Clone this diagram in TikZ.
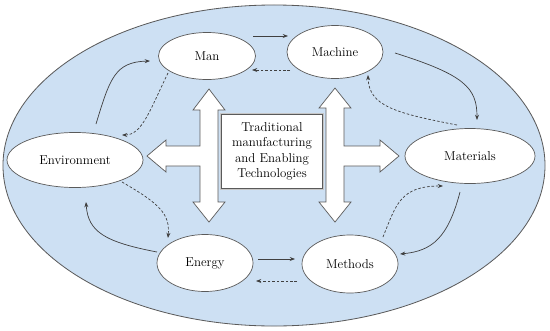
\documentclass[tikz,border=0pt]{standalone}
\usepackage{xcolor}
\usepackage{tikz}
\usetikzlibrary{positioning,shapes,shapes.geometric,arrows.meta,calc}
\definecolor{dark}{HTML}{404040}
\definecolor{outline}{HTML}{5A5A5A}
\definecolor{sky}{HTML}{CDE0F3}
\tikzset{
    factor/.style={ellipse, draw=outline, fill=white, line width=0.6pt, inner sep=0pt, font=\fontsize{11}{13}\selectfont},
    core/.style={rectangle, draw=outline, double=gray!45, double distance=0.9pt, fill=white, inner sep=2pt, align=center, font=\fontsize{11}{13.2}\selectfont},
    bigarrow/.style={draw=outline, fill=white, line width=0.6pt, line join=miter},
    flow/.style={-{Stealth[length=4.5pt,width=3.4pt]}, line width=0.6pt, draw=dark},
    feedback/.style={flow, dash pattern=on 2.2pt off 1.6pt}
}

\begin{document}
\begin{tikzpicture}[x=0.03cm, y=-0.03cm]
\useasboundingbox (0,0) rectangle (550,331);

% system boundary
\node[ellipse, draw=outline, fill=sky, line width=0.7pt, minimum width=16.26cm, minimum height=9.63cm, inner sep=0pt] (system) at (274,165.5) {};

% the six factors
\node[factor, minimum width=2.91cm, minimum height=1.41cm] (man) at (207,56) {Man};
\node[factor, minimum width=2.88cm, minimum height=1.59cm] (machine) at (335,52) {Machine};
\node[factor, minimum width=3.9cm, minimum height=1.65cm] (materials) at (470,156) {Materials};
\node[factor, minimum width=4.08cm, minimum height=1.65cm] (environment) at (75,160) {Environment};
\node[factor, minimum width=2.88cm, minimum height=1.71cm] (energy) at (205,263) {Energy};
\node[factor, minimum width=2.88cm, minimum height=1.74cm] (methods) at (350,264) {Methods};

% big white arrows
\draw[bigarrow] (209,89) -- (225,110) -- (218,110) -- (218,202) -- (225,202) -- (209,222) -- (193,202) -- (200,202) -- (200,166) -- (166,166) -- (166,172) -- (147,156) -- (166,140) -- (166,146) -- (200,146) -- (200,110) -- (193,110) -- cycle;
\draw[bigarrow] (335,88) -- (351,108) -- (344,108) -- (344,146) -- (380,146) -- (380,140) -- (399,156) -- (380,172) -- (380,166) -- (344,166) -- (344,202) -- (351,202) -- (335,222) -- (319,202) -- (326,202) -- (326,108) -- (319,108) -- cycle;

% centre box
\node[core, minimum width=3.08cm, minimum height=2.27cm] (tech) at (272,151.5) {Traditional\\manufacturing\\and Enabling\\Technologies};

% solid flows
\draw[flow] ($(man)+(46,-20)$) -- ($(machine)+(-47,-16)$);
\draw[flow] ($(machine)+(60,1)$) .. controls (465,75) and (477,88) .. ($(materials)+(7,-36)$);
\draw[flow] ($(materials)+(-10,36)$) .. controls (448,238) and (432,251) .. ($(methods)+(50,-10)$);
\draw[flow] ($(energy)+(53,-4)$) -- ($(methods)+(-55,-5)$);
\draw[flow] ($(energy)+(-48,-11)$) .. controls (105,242) and (88,232) .. ($(environment)+(11,42)$);
\draw[flow] ($(environment)+(21,-36)$) .. controls (110,78) and (115,62) .. ($(man)+(-57,5)$);

% dashed feedback
\draw[feedback] ($(machine)+(-45,18)$) -- ($(man)+(45,14)$);
\draw[feedback] ($(materials)+(-13,-31)$) .. controls (395,113) and (369,106) .. ($(machine)+(33,23)$);
\draw[feedback] ($(methods)+(33,-27)$) .. controls (396,205) and (400,186) .. ($(materials)+(-27,30)$);
\draw[feedback] ($(methods)+(-53,17)$) -- ($(energy)+(51,18)$);
\draw[feedback] ($(environment)+(47,22)$) .. controls (160,204) and (170,214) .. ($(energy)+(-37,-25)$);
\draw[feedback] ($(man)+(-39,17)$) .. controls (150,110) and (142,135) .. ($(environment)+(47,-25)$);

\end{tikzpicture}
\end{document}
